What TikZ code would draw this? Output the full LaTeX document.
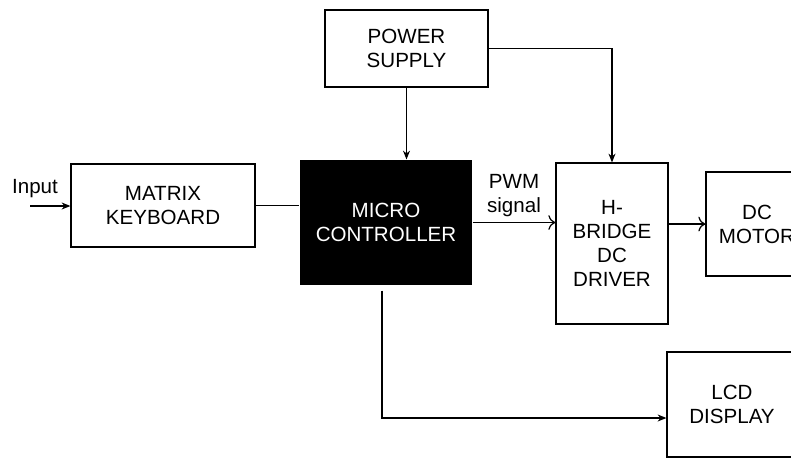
\documentclass[tikz,border=0pt]{standalone}
\usepackage{fontspec}
\setmainfont{Liberation Sans}
\usepackage{tikz}
\usetikzlibrary{positioning, calc, arrows.meta}
\tikzset{
	blockbox/.style={draw, line width=0.7pt, align=center, font=\fontsize{11.7}{13.6}\selectfont}
}
\tikzset{
	chiptext/.style={fill=black, text=white, align=center, font=\fontsize{11.7}{13.6}\selectfont}
}
\tikzset{
	labeltext/.style={align=center, inner sep=1pt, font=\fontsize{11.7}{13.6}\selectfont}
}

\begin{document}
\begin{tikzpicture}[x=0.02cm, y=-0.02cm, line width=0.7pt, >={Stealth[length=5pt,width=4pt]}]
      \useasboundingbox (0,0) rectangle (791,461);
      \clip (0,0) rectangle (791,461);
      % blocks
      \node[blockbox, minimum width=3.68cm, minimum height=1.66cm] (kbd) at (163,205.5) {MATRIX\\KEYBOARD};
      \node[chiptext, minimum width=3.44cm, minimum height=2.5cm] (mcu) at (386,222.5) {MICRO\\CONTROLLER};
      \node[blockbox, minimum width=3.26cm, minimum height=1.54cm] (psu) at (406.5,48.5) {POWER\\SUPPLY};
      \node[blockbox, minimum width=2.24cm, minimum height=3.22cm] (hbr) at (612,243.5) {H-\\BRIDGE\\DC\\DRIVER};
      \node[blockbox, minimum width=2.04cm, minimum height=2.08cm] (motor) at (757,224) {DC\\MOTOR};
      \node[blockbox, minimum width=2.6cm, minimum height=2.1cm] (lcd) at (732,404.5) {LCD\\DISPLAY};
      % input into keyboard
      \node[labeltext] (inlbl) at (35,189) {Input};
      \coordinate (in) at (30,206);
      \draw[->] (in) -- (in -| kbd.west);
      % keyboard to controller
      \draw (kbd.east) -- (kbd.east -| mcu.west);
      % power lines
      \draw[->] (psu.south) -- (psu.south |- mcu.north);
      \draw[->] (psu.east) -| (hbr.north);
      % PWM to driver
      \draw[-{To[length=4pt]}] (mcu.east) -- (mcu.east -| hbr.west) node[midway, above=2pt, labeltext] (pwm) {PWM\\signal};
      % driver to motor
      \draw[-{To[length=4pt]}] (hbr.east |- motor.west) -- (motor.west);
      % controller to display
      \draw[->] ([xshift=-0.08cm, yshift=-0.1cm]mcu.south) |- ([yshift=-0.27cm]lcd.west);
    \end{tikzpicture}
\end{document}
